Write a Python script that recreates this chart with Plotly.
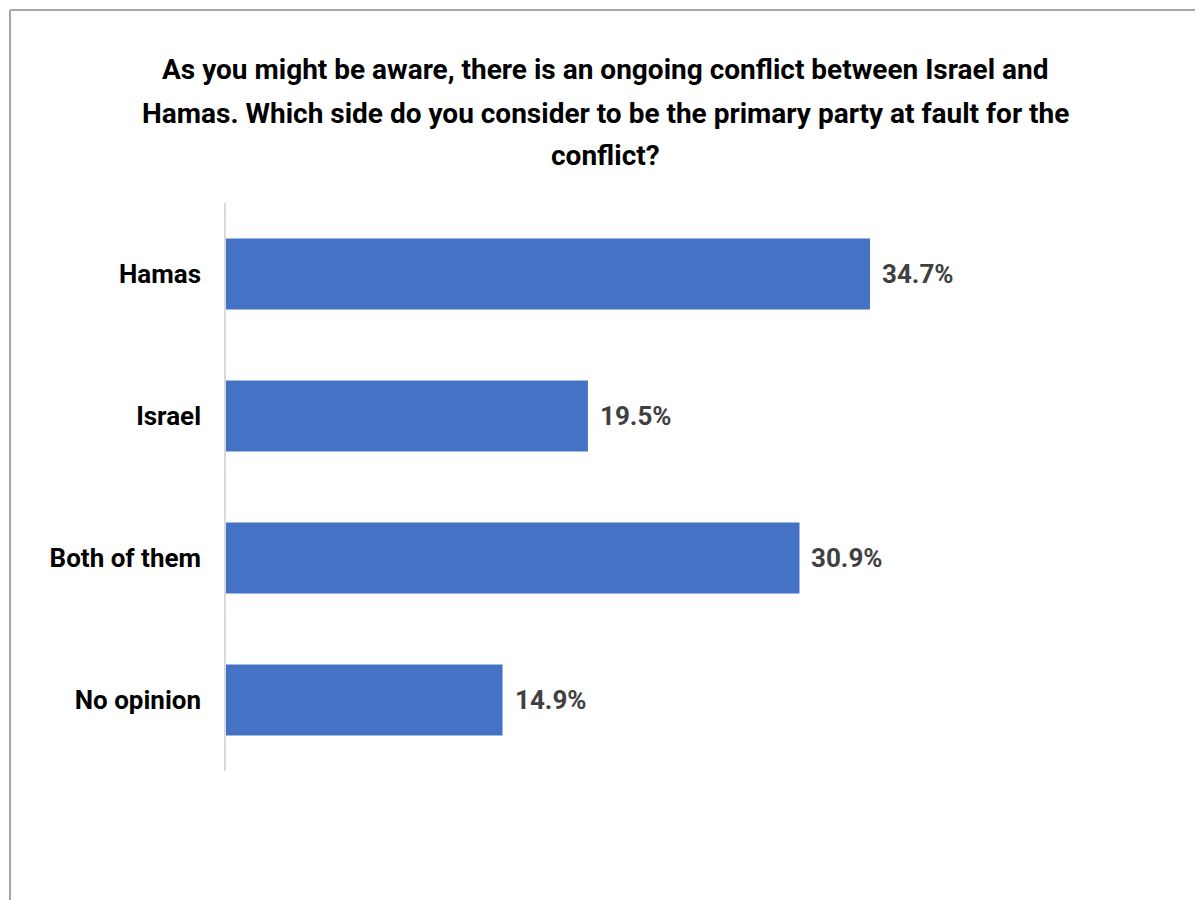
import plotly.graph_objects as go

categories = ["Hamas", "Israel", "Both of them", "No opinion"]
values = [34.7, 19.5, 30.9, 14.9]
title_lines = [
    "As you might be aware, there is an ongoing conflict between Israel and",
    "Hamas. Which side do you consider to be the primary party at fault for the",
    "conflict?",
]

OFF = 8  # page body offset
W, H = 1203, 900
L, R, T, B = 226 - OFF, 103, 203 - OFF, 129 + OFF
pw, ph = W - L - R, H - T - B
xmax = pw / ((870 - 226) / 34.7)

fig = go.Figure(go.Bar(
    y=categories, x=values, orientation="h",
    marker=dict(color="#4472C4", line=dict(width=0)),
    hoverinfo="skip",
))

for c, v in zip(categories, values):
    fig.add_annotation(x=v, y=c, xref="x", yref="y", text=f"{v:.1f}%",
                       showarrow=False, xanchor="left", xshift=10,
                       font=dict(family="Roboto", size=26, color="#404040", weight="bold"))

title_y = [70, 114, 157]
for line, py in zip(title_lines, title_y):
    fig.add_annotation(x=(605 - OFF - L) / pw, y=1 + (T - (py - 1 - OFF)) / ph, xref="paper", yref="paper",
                       text=line, showarrow=False, xanchor="center", yanchor="middle",
                       font=dict(family="Roboto", size=28, color="#000000", weight="bold"))

# chart border (top and left)
bx = (10 - OFF - L) / pw
by = 1 + (T - (10 - OFF)) / ph
fig.add_shape(type="line", xref="paper", yref="paper", x0=bx, x1=1 + (R + 20) / pw, y0=by, y1=by,
              line=dict(color="#A6A6A6", width=2))
fig.add_shape(type="line", xref="paper", yref="paper", x0=bx, x1=bx, y0=by, y1=-(B + 20) / ph,
              line=dict(color="#A6A6A6", width=2))

fig.update_layout(
    width=W, height=H,
    margin=dict(l=L, r=R, t=T, b=B, autoexpand=False),
    paper_bgcolor="white", plot_bgcolor="white",
    bargap=0.5, showlegend=False,
    xaxis=dict(range=[0, xmax], visible=False, fixedrange=True),
    yaxis=dict(autorange="reversed", showline=True, linecolor="#D9D9D9", linewidth=1.5,
               showgrid=False, ticks="", ticklabelstandoff=18,
               tickfont=dict(family="Roboto", size=26, color="#000000", weight="bold")),
)

fig.write_html("out.html")
